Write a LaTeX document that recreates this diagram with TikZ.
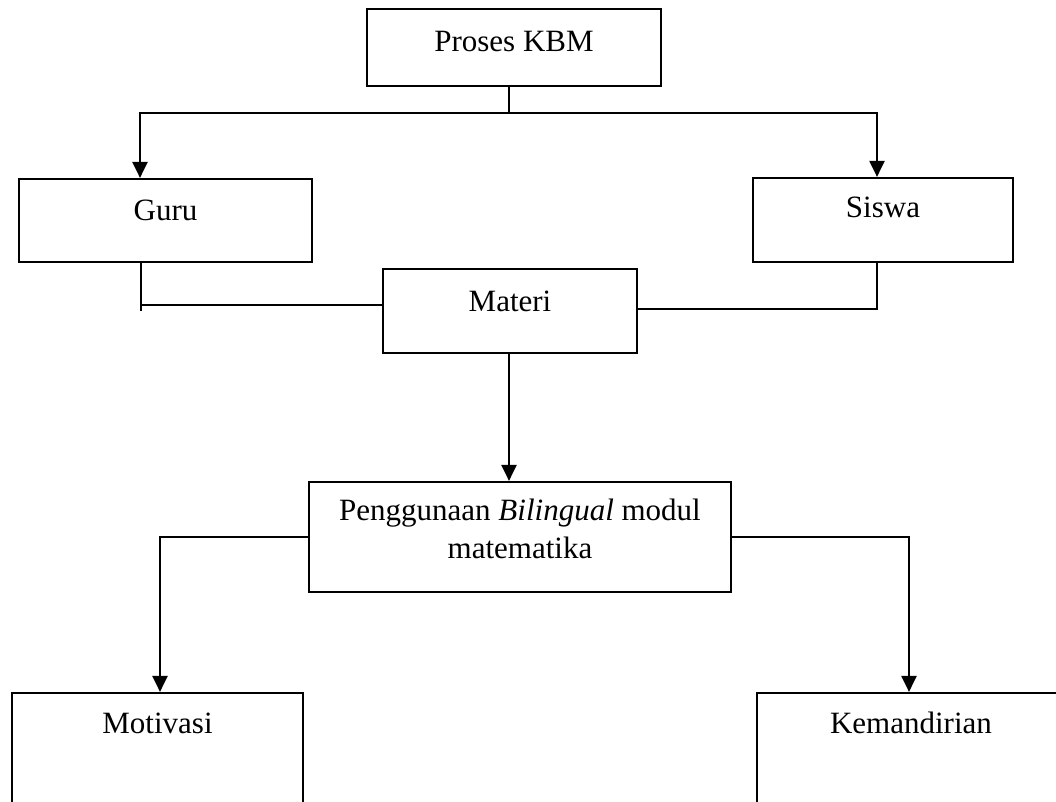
\documentclass[tikz,border=0pt]{standalone}
\usepackage{fontspec}
\setmainfont{Liberation Serif}
\usetikzlibrary{arrows.meta}

\begin{document}
\begin{tikzpicture}[
			x=1pt, y=-1pt,
			box/.style={
				draw,
				line width=2.2pt,
				align=center,
				inner sep=0pt,
				text height=16pt,
				text depth=16pt,
				font=\fontsize{31}{38}\selectfont
			},
			openbox/.style={
				box,
				minimum height=150pt,
				text depth=86pt
			},
			line width=2.2pt,
			>={Triangle[length=16pt,width=15pt]}
			]
			
			\useasboundingbox (0,0) rectangle (1056,801);
			\clip (0,0) rectangle (1056,801);
			
			\node[box, minimum width=294pt, minimum height=77pt, text depth=9pt] (kbm) at (514,47.5) {Proses KBM};
			\node[box, minimum width=293pt, minimum height=83pt] (guru) at (165.5,220.5) {Guru};
			\node[box, minimum width=260pt, minimum height=84pt, text depth=22pt] (siswa) at (883,220) {Siswa};
			\node[box, minimum width=254pt, minimum height=84pt] (materi) at (510,311) {Materi};
			\node[box, minimum width=422pt, minimum height=110pt, text height=59pt, text depth=17pt] (peng) at (520,537)
			{Penggunaan \textit{Bilingual} modul\\matematika};
			\node[openbox, minimum width=291pt] (motiv) at (157.5,768) {Motivasi};
			\node[openbox, minimum width=308pt] (kemand) at (911,768) {Kemandirian};
			
			\coordinate (split) at (509,113);
			\coordinate (gdrop) at ([xshift=-24.5pt]guru.south);
			\coordinate (mleft) at ([yshift=6pt]materi.west);
			\coordinate (mright) at ([yshift=2pt]materi.east);
			
			\draw (kbm.south -| split) -- (split);
			\draw[->] (split) -| ([xshift=-25.5pt]guru.north);
			\draw[->] (split) -| ([xshift=-6pt]siswa.north);
			
			\draw (gdrop) -- ++(0,48);
			\draw (gdrop |- mleft) -- (mleft);
			\draw ([xshift=-6pt]siswa.south) |- (mright);
			
			\draw[->] (materi.south -| split) -- (peng.north -| split);
			\draw[->] (peng.west) -| ([xshift=2.5pt]motiv.north);
			\draw[->] (peng.east) -| ([xshift=-2pt]kemand.north);
			
		\end{tikzpicture}
\end{document}
